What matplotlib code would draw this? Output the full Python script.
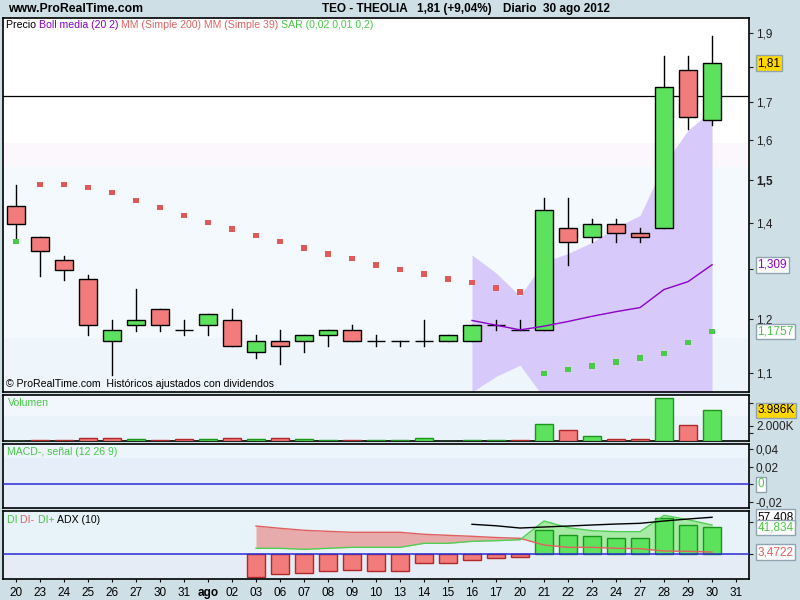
import matplotlib
matplotlib.use('Agg')
import matplotlib.pyplot as plt
from matplotlib.patches import Rectangle
from matplotlib.ticker import FixedLocator, FixedFormatter, NullLocator

plt.rcParams['font.family'] = ['Liberation Sans', 'DejaVu Sans']

# trading days (x labels), last one has no candle
days = ['20', '23', '24', '25', '26', '27', '30', '31', 'ago', '02', '03', '06', '07', '08', '09',
        '10', '13', '14', '15', '16', '17', '20', '21', '22', '23', '24', '27', '28', '29', '30', '31']

opens = [1.439, 1.369, 1.319, 1.279, 1.158, 1.188, 1.219, 1.178, 1.188, 1.197,
         1.137, 1.158, 1.158, 1.169, 1.178, 1.158, 1.158, 1.158, 1.158, 1.158,
         1.188, 1.178, 1.178, 1.389, 1.369, 1.398, 1.378, 1.389, 1.789, 1.651]
highs = [1.489, 1.369, 1.328, 1.288, 1.197, 1.259, 1.219, 1.197, 1.209, 1.219,
         1.169, 1.178, 1.169, 1.178, 1.188, 1.169, 1.158, 1.197, 1.169, 1.188,
         1.197, 1.197, 1.458, 1.458, 1.408, 1.408, 1.389, 1.831, 1.831, 1.891]
lows = [1.363, 1.286, 1.278, 1.169, 1.097, 1.177, 1.177, 1.169, 1.169, 1.148,
        1.127, 1.116, 1.137, 1.148, 1.158, 1.148, 1.148, 1.148, 1.158, 1.158,
        1.178, 1.178, 1.178, 1.308, 1.357, 1.357, 1.357, 1.389, 1.628, 1.639]
closes = [1.398, 1.338, 1.298, 1.188, 1.178, 1.197, 1.188, 1.178, 1.209, 1.148,
          1.158, 1.148, 1.169, 1.178, 1.158, 1.158, 1.158, 1.158, 1.169, 1.188,
          1.188, 1.178, 1.430, 1.358, 1.398, 1.378, 1.369, 1.741, 1.659, 1.810]

sar = [1.359, 1.489, 1.489, 1.482, 1.470, 1.451, 1.435, 1.417, 1.401, 1.387,
       1.372, 1.359, 1.345, 1.332, 1.322, 1.309, 1.299, 1.290, 1.280, 1.272,
       1.261, 1.253, 1.099, 1.106, 1.113, 1.120, 1.127, 1.135, 1.155, 1.1757]

# Bollinger (20 2) from Aug 16 on
boll_start = 19
boll_mid = [1.197, 1.188, 1.179, 1.186, 1.195, 1.205, 1.214, 1.222, 1.258, 1.274, 1.309]
boll_up = [1.330, 1.292, 1.245, 1.315, 1.333, 1.357, 1.390, 1.417, 1.538, 1.625, 1.678]
boll_low = [1.067, 1.094, 1.114, 1.057, 1.058, 1.053, 1.038, 1.027, 0.978, 0.923, 0.940]

hline_level = 1.717

# volume in thousands
volume = [0, 130, 130, 350, 350, 220, 100, 220, 220, 350,
          220, 350, 220, 100, 100, 100, 100, 350, 20, 100,
          100, 100, 2220, 1400, 610, 220, 220, 5580, 2050, 3986]

# DI / ADX (10) from Aug 3 on
di_start = 10
di_minus = [43.8, 40.3, 37.2, 35.6, 34.1, 34.1, 34.1, 31.0, 29.4, 27.9,
            26.0, 24.8, 14.4, 10.8, 10.8, 9.3, 8.7, 5.1, 4.6, 3.47]
di_plus = [9.3, 9.3, 7.7, 9.3, 10.8, 10.8, 10.8, 17.0, 17.0, 20.1,
           21.1, 22.6, 51.6, 41.2, 36.6, 35.0, 35.0, 60.4, 53.6, 45.3]
di_hist = [-34.7, -31.0, -29.4, -26.3, -23.9, -25.4, -25.4, -13.9, -13.9, -8.1,
           -5.0, -4.6, 37.6, 29.4, 27.9, 24.8, 24.8, 55.8, 44.9, 41.834]
adx_start = 19
adx = [46.5, 44.2, 40.7, 42.3, 43.8, 45.4, 46.9, 48.0, 51.6, 54.7, 57.4]

BG = '#cfdfe6'
RED_FILL = '#f27c7c'
GREEN_FILL = '#5ce25c'
RED_EDGE = '#b02828'
GREEN_EDGE = '#1a961a'
LAB_GREEN = '#48c848'
BLUE = '#2a2ad8'
SMALL = 7.6

fig = plt.figure(figsize=(8, 6), dpi=100, facecolor=BG)
W, H = 800.0, 600.0
L, R = 3 / W, 749 / W


def panel(top, bottom):
    ax = fig.add_axes([L, 1 - bottom / H, R - L, (bottom - top) / H])
    ax.set_xlim(-0.54, 30.54)
    ax.yaxis.tick_right()
    ax.tick_params(axis='y', direction='out', length=3, width=0.8, pad=2, labelsize=8.5,
                   colors='#202020')
    ax.tick_params(axis='x', bottom=False, labelbottom=False)
    for s in ax.spines.values():
        s.set_linewidth(1.2)
    return ax


def bands(ax, spans):
    for y0, y1, c in spans:
        ax.add_patch(Rectangle((0, y0), 1, y1 - y0, transform=ax.transAxes,
                               facecolor=c, edgecolor='none', zorder=0))


def box_label(ax, val, text, color, face='white', z=10):
    ax.annotate(text, xy=(1, val), xycoords=('axes fraction', 'data'),
                xytext=(6, 0), textcoords='offset points', ha='left', va='center',
                fontsize=8.5, color=color, annotation_clip=False, zorder=z,
                bbox=dict(boxstyle='square,pad=0.15', facecolor=face, edgecolor='#8fa4ae', lw=1))


x = list(range(len(closes)))

# ---------------- price panel ----------------
ax = panel(18, 392)
ax.set_yscale('log')
ax.set_ylim(1.067, 1.946)
bands(ax, [(0.666, 1, 'white'), (0.602, 0.666, '#fcf7fc'),
           (0.144, 0.602, '#f4f9fd'), (0, 0.144, '#eef6fc')])

bx = x[boll_start:]
ax.fill_between(bx, boll_low, boll_up, color='#d8c9fb', lw=0, zorder=1)
ax.plot(bx, boll_mid, color='#8a00c8', lw=1, zorder=4)
ax.axhline(hline_level, color='black', lw=0.9, zorder=2)

for i in x:
    o, h, l, c = opens[i], highs[i], lows[i], closes[i]
    ax.plot([i, i], [l, h], color='black', lw=1, zorder=3)
    col = GREEN_FILL if c >= o else RED_FILL
    ax.add_patch(Rectangle((i - 0.36, min(o, c)), 0.72, abs(c - o), facecolor=col,
                           edgecolor='black', lw=1, zorder=3.5))

sar_cols = ['#e05a5a' if s > closes[i] else '#4cc84c' for i, s in enumerate(sar)]
ax.scatter(x, sar, s=16, marker='s', c=sar_cols, linewidths=0, zorder=5)

yt = [1.1, 1.2, 1.3, 1.4, 1.5, 1.6, 1.7, 1.8, 1.9]
ytl = ['1,1', '1,2', '', '1,4', '1,5', '1,6', '1,7', '', '1,9']
ax.yaxis.set_major_locator(FixedLocator(yt))
ax.yaxis.set_major_formatter(FixedFormatter(ytl))
ax.yaxis.set_minor_locator(NullLocator())
for t in ax.get_yticklabels():
    if t.get_text() == '1,5':
        t.set_fontweight('bold')
box_label(ax, closes[-1], '1,81', 'black', face='#ffd800')
box_label(ax, boll_mid[-1], '1,309', '#8a00c8')
box_label(ax, sar[-1], '1,1757', LAB_GREEN)

ax.text(0.004, 0.008, '\u00a9 ProRealTime.com  Hist\u00f3ricos ajustados con dividendos',
        transform=ax.transAxes, fontsize=SMALL, va='bottom', ha='left', zorder=6)

# legend made of coloured pieces
fig.canvas.draw()
rend = fig.canvas.get_renderer()
px = 6
for txt, col in [('Precio ', 'black'), ('Boll media (20 2) ', '#8a00c8'),
                 ('MM (Simple 200) MM (Simple 39) ', '#e06464'),
                 ('SAR (0,02 0,01 0,2)', LAB_GREEN)]:
    t = fig.text(px / W, 1 - 25 / H, txt, fontsize=SMALL, color=col, va='center', ha='left')
    px += t.get_window_extent(rend).width

# ---------------- volume panel ----------------
av = panel(395, 441)
av.set_ylim(0, 6000)
bands(av, [(0.55, 1, '#f1f7fc'), (0, 0.55, '#eaf2fa')])
vcols, vedges = [], []
for i in x:
    up = i == 0 or closes[i] >= closes[i - 1]
    vcols.append(GREEN_FILL if up else RED_FILL)
    vedges.append(GREEN_EDGE if up else RED_EDGE)
av.bar(x, volume, width=0.76, color=vcols, edgecolor=vedges, lw=1, zorder=3)
av.set_yticks([1000, 2000, 5000])
av.set_yticklabels(['', '2.000K', ''])
box_label(av, volume[-1], '3.986K', 'black', face='#ffd800')
av.text(0.006, 0.93, 'Volumen', transform=av.transAxes, fontsize=SMALL, color=LAB_GREEN,
        va='top', ha='left')

# ---------------- MACD panel ----------------
am = panel(444, 508)
am.set_ylim(-0.027, 0.046)
bands(am, [(0.78, 1, '#edf5fc'), (0, 0.78, '#e6eff9')])
am.axhline(0, color=BLUE, lw=1.1, zorder=3)
am.set_yticks([-0.02, 0, 0.02, 0.04])
am.set_yticklabels(['-0,02', '', '0,02', '0,04'])
box_label(am, 0, '0', LAB_GREEN)
am.text(0.006, 0.95, 'MACD-, se\u00f1al (12 26 9)', transform=am.transAxes, fontsize=SMALL,
        color=LAB_GREEN, va='top', ha='left')

# ---------------- DI / ADX panel ----------------
ad = panel(511, 579)
ad.set_ylim(-38.3, 67.1)
bands(ad, [(0.363, 1, '#e7f3f9'), (0, 0.363, '#e6ecf6')])
dx = x[di_start:]
ad.fill_between(dx, di_plus, di_minus, where=[m >= p for m, p in zip(di_minus, di_plus)],
                interpolate=True, color='#e8abab', lw=0, zorder=1)
ad.fill_between(dx, di_plus, di_minus, where=[p >= m for m, p in zip(di_minus, di_plus)],
                interpolate=True, color='#a6eaa6', lw=0, zorder=1)
hc = [GREEN_FILL if v >= 0 else RED_FILL for v in di_hist]
he = [GREEN_EDGE if v >= 0 else RED_EDGE for v in di_hist]
ad.bar(dx, di_hist, width=0.76, color=hc, edgecolor=he, lw=1, zorder=2)
ad.plot(dx, di_minus, color='#e06060', lw=1, zorder=4)
ad.plot(dx, di_plus, color='#50d050', lw=1, zorder=4)
ad.plot(x[adx_start:], adx, color='black', lw=1, zorder=4)
ad.axhline(0, color=BLUE, lw=1.1, zorder=3)
ad.set_yticks([0, 50])
ad.set_yticklabels(['', ''])
box_label(ad, adx[-1], '57,408', 'black', z=9)
box_label(ad, di_hist[-1], '41,834', LAB_GREEN, z=11)
box_label(ad, di_minus[-1], '3,4722', '#e06060')
lx = 7
for txt, col in [('DI ', LAB_GREEN), ('DI- ', '#e06060'), ('DI+ ', LAB_GREEN),
                 ('ADX (10)', 'black')]:
    t = fig.text(lx / W, 1 - 520 / H, txt, fontsize=SMALL, color=col, va='center', ha='left')
    lx += t.get_window_extent(rend).width

ad.tick_params(axis='x', bottom=True, labelbottom=True, direction='out', length=2,
               labelsize=8.5, pad=4)
ad.set_xticks(range(len(days)))
ad.set_xticklabels(days)
for t in ad.get_xticklabels():
    if t.get_text() == 'ago':
        t.set_fontweight('bold')

# header
fig.text(8 / W, 1 - 9 / H, 'www.ProRealTime.com', fontsize=8.8, fontweight='bold',
         va='center', ha='left')
fig.text(322 / W, 1 - 9 / H, 'TEO - THEOLIA', fontsize=8.5, fontweight='bold',
         va='center', ha='left')
fig.text(417 / W, 1 - 9 / H, '1,81 (+9,04%)', fontsize=8.5, fontweight='bold',
         va='center', ha='left')
fig.text(503 / W, 1 - 9 / H, 'Diario  30 ago 2012', fontsize=8.5, fontweight='bold',
         va='center', ha='left')

fig.savefig('out.png', dpi=100, facecolor=BG)
